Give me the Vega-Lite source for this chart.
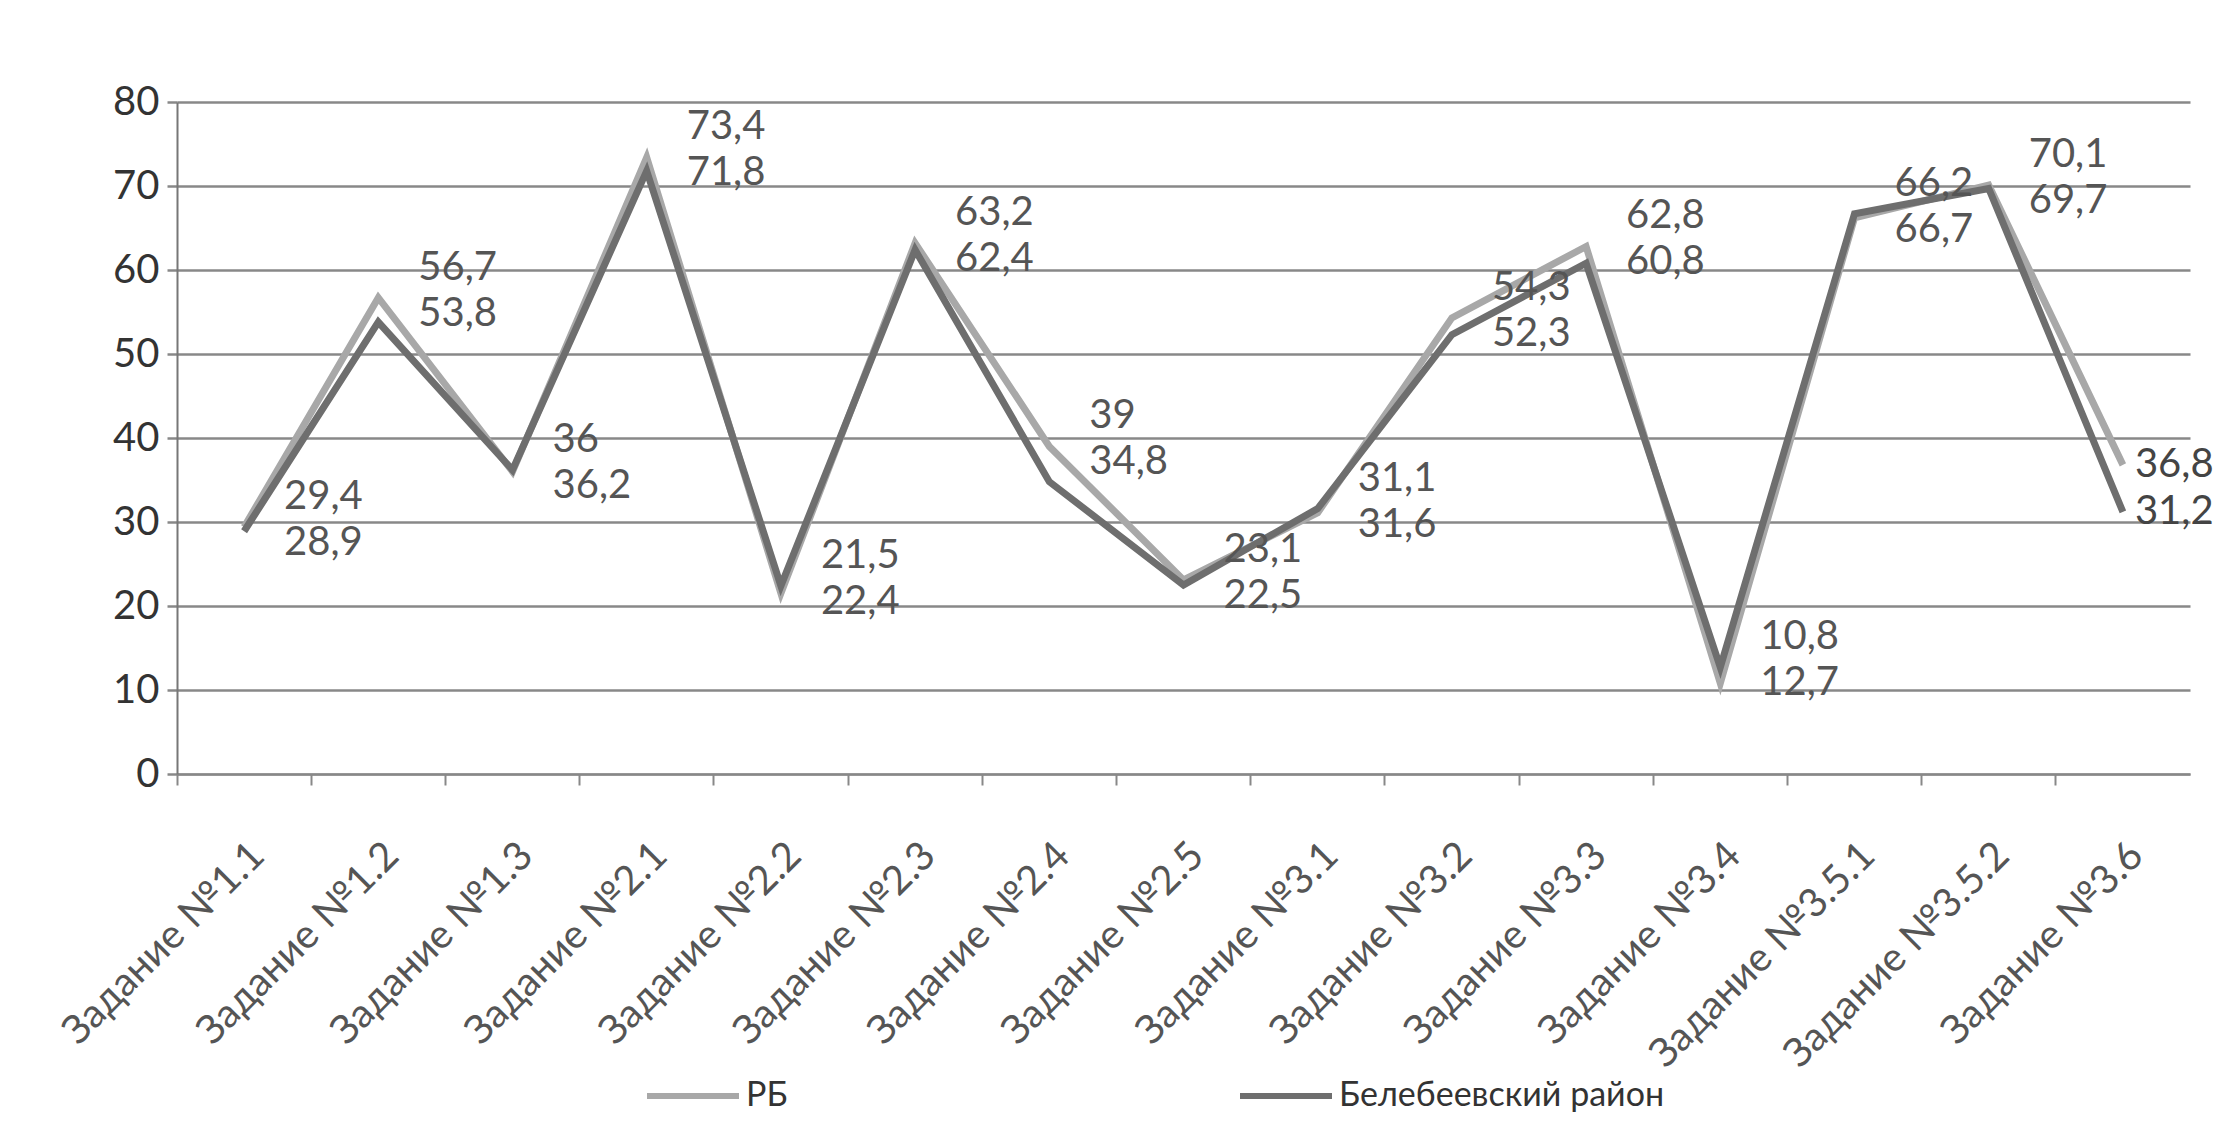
{
  "$schema": "https://vega.github.io/schema/vega-lite/v6.json",
  "width": 2013,
  "height": 672,
  "autosize": {"type": "none"},
  "padding": {"left": 177, "top": 102, "right": 28, "bottom": 347},
  "background": "white",
  "config": {
    "locale": {"number": {"decimal": ",", "thousands": " ", "grouping": [3], "currency": ["", ""]}},
    "view": {"stroke": null},
    "font": "Lato"
  },
  "data": {
    "values": [
      {"task": "Задание №1.1", "series": "РБ", "value": 29.4},
      {"task": "Задание №1.2", "series": "РБ", "value": 56.7},
      {"task": "Задание №1.3", "series": "РБ", "value": 36},
      {"task": "Задание №2.1", "series": "РБ", "value": 73.4},
      {"task": "Задание №2.2", "series": "РБ", "value": 21.5},
      {"task": "Задание №2.3", "series": "РБ", "value": 63.2},
      {"task": "Задание №2.4", "series": "РБ", "value": 39},
      {"task": "Задание №2.5", "series": "РБ", "value": 23.1},
      {"task": "Задание №3.1", "series": "РБ", "value": 31.1},
      {"task": "Задание №3.2", "series": "РБ", "value": 54.3},
      {"task": "Задание №3.3", "series": "РБ", "value": 62.8},
      {"task": "Задание №3.4", "series": "РБ", "value": 10.8},
      {"task": "Задание №3.5.1", "series": "РБ", "value": 66.2},
      {"task": "Задание №3.5.2", "series": "РБ", "value": 70.1},
      {"task": "Задание №3.6", "series": "РБ", "value": 36.8},
      {"task": "Задание №1.1", "series": "Белебеевский район", "value": 28.9},
      {"task": "Задание №1.2", "series": "Белебеевский район", "value": 53.8},
      {"task": "Задание №1.3", "series": "Белебеевский район", "value": 36.2},
      {"task": "Задание №2.1", "series": "Белебеевский район", "value": 71.8},
      {"task": "Задание №2.2", "series": "Белебеевский район", "value": 22.4},
      {"task": "Задание №2.3", "series": "Белебеевский район", "value": 62.4},
      {"task": "Задание №2.4", "series": "Белебеевский район", "value": 34.8},
      {"task": "Задание №2.5", "series": "Белебеевский район", "value": 22.5},
      {"task": "Задание №3.1", "series": "Белебеевский район", "value": 31.6},
      {"task": "Задание №3.2", "series": "Белебеевский район", "value": 52.3},
      {"task": "Задание №3.3", "series": "Белебеевский район", "value": 60.8},
      {"task": "Задание №3.4", "series": "Белебеевский район", "value": 12.7},
      {"task": "Задание №3.5.1", "series": "Белебеевский район", "value": 66.7},
      {"task": "Задание №3.5.2", "series": "Белебеевский район", "value": 69.7},
      {"task": "Задание №3.6", "series": "Белебеевский район", "value": 31.2}
    ]
  },
  "layer": [
    {
      "mark": {"type": "line", "strokeWidth": 7, "strokeJoin": "miter"},
      "encoding": {
        "x": {
          "field": "task", "type": "nominal", "sort": null, "bandPosition": 0.5,
          "scale": {"type": "band", "paddingInner": 0, "paddingOuter": 0},
          "axis": {
            "title": null, "bandPosition": 0, "labelAngle": -45,
            "labelAlign": "right", "labelBaseline": "top", "labelPadding": 50,
            "labelFontSize": 40, "labelColor": "#555555", "labelLimit": 0, "labelOverlap": false,
            "ticks": true, "tickSize": 11,
            "tickColor": "#888888", "tickWidth": 2, "domainColor": "#888888", "domainWidth": 2,
            "grid": false
          }
        },
        "y": {
          "field": "value", "type": "quantitative",
          "scale": {"domain": [0, 80], "nice": false},
          "axis": {
            "title": null, "values": [0, 10, 20, 30, 40, 50, 60, 70, 80],
            "labelFontSize": 40, "labelColor": "#333333", "labelPadding": 8,
            "grid": true, "gridColor": "#888888", "gridWidth": 2.5,
            "tickColor": "#888888", "tickWidth": 2.5, "tickSize": 10,
            "domainColor": "#777777", "domainWidth": 2
          }
        },
        "color": {
          "field": "series", "type": "nominal",
          "scale": {"domain": ["РБ", "Белебеевский район"], "range": ["#a8a8a8", "#6e6e6e"]},
          "legend": {
            "title": null, "orient": "none", "legendX": 467, "legendY": 945,
            "direction": "horizontal", "symbolType": "stroke", "symbolSize": 8464,
            "symbolStrokeWidth": 6, "labelFontSize": 34, "labelColor": "#333333",
            "labelLimit": 0, "columnPadding": 440, "labelOffset": 4
          }
        }
      }
    },
    {
      "transform": [
        {"joinaggregate": [{"op": "max", "field": "value", "as": "pairMax"}], "groupby": ["task"]},
        {"filter": "datum.series === 'РБ' && datum.task !== 'Задание №3.6'"}
      ],
      "mark": {"type": "text", "align": "left", "baseline": "middle", "dx": 40, "dy": -30, "fontSize": 40, "color": "#555555"},
      "encoding": {
        "x": {"field": "task", "type": "nominal", "sort": null, "bandPosition": 0.5},
        "y": {"field": "pairMax", "type": "quantitative"},
        "text": {"field": "value", "type": "quantitative", "format": "~g"}
      }
    },
    {
      "transform": [
        {"joinaggregate": [{"op": "max", "field": "value", "as": "pairMax"}], "groupby": ["task"]},
        {"filter": "datum.series === 'Белебеевский район' && datum.task !== 'Задание №3.6'"}
      ],
      "mark": {"type": "text", "align": "left", "baseline": "middle", "dx": 40, "dy": 16, "fontSize": 40, "color": "#555555"},
      "encoding": {
        "x": {"field": "task", "type": "nominal", "sort": null, "bandPosition": 0.5},
        "y": {"field": "pairMax", "type": "quantitative"},
        "text": {"field": "value", "type": "quantitative", "format": "~g"}
      }
    },
    {
      "transform": [{"filter": "datum.task === 'Задание №3.6'"}],
      "mark": {"type": "text", "align": "left", "baseline": "middle", "dx": 12, "fontSize": 40, "color": "#444444"},
      "encoding": {
        "x": {"field": "task", "type": "nominal", "sort": null, "bandPosition": 0.5},
        "y": {"field": "value", "type": "quantitative"},
        "text": {"field": "value", "type": "quantitative", "format": "~g"}
      }
    }
  ]
}
